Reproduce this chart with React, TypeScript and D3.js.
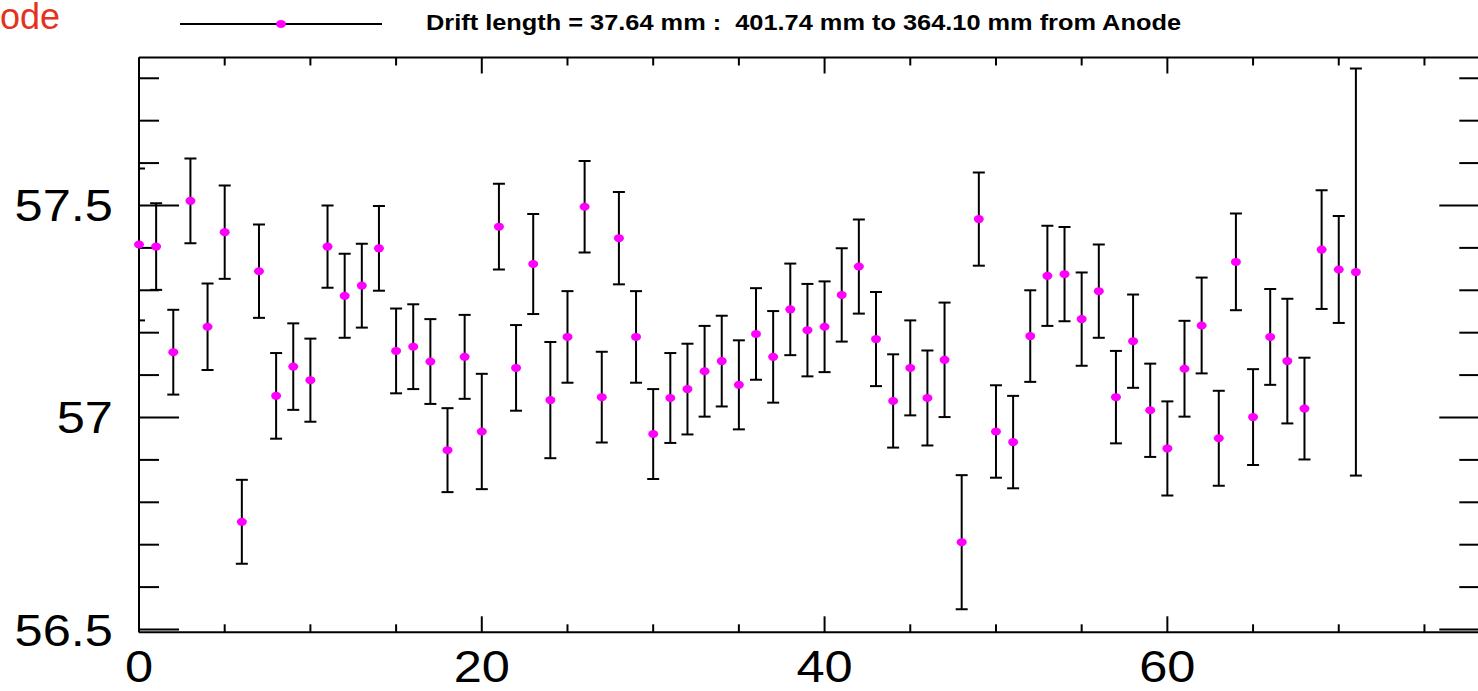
import React from 'react';
import * as d3 from 'd3';

const channels = [0,1,2,3,4,5,6,7,8,9,10,11,12,13,14,15,16,17,18,19,20,21,22,23,24,25,26,27,28,29,30,31,32,33,34,35,36,37,38,39,40,41,42,43,44,45,46,47,48,49,50,51,52,53,54,55,56,57,58,59,60,61,62,63,64,65,66,67,68,69,70,71];
const values = [57.408,57.403,57.154,57.511,57.214,57.437,56.754,57.345,57.051,57.120,57.088,57.403,57.287,57.311,57.399,57.157,57.167,57.132,56.923,57.143,56.967,57.450,57.117,57.362,57.041,57.190,57.497,57.048,57.423,57.190,56.961,57.046,57.067,57.109,57.133,57.077,57.197,57.143,57.255,57.206,57.214,57.289,57.356,57.185,57.039,57.117,57.046,57.136,56.706,57.468,56.967,56.942,57.192,57.334,57.338,57.232,57.298,57.048,57.180,57.017,56.927,57.115,57.217,56.951,57.367,57.001,57.190,57.133,57.021,57.396,57.349,57.343];
const errors = [0.179,0.102,0.100,0.100,0.102,0.110,0.099,0.110,0.101,0.102,0.098,0.097,0.099,0.099,0.100,0.100,0.100,0.100,0.099,0.099,0.136,0.101,0.101,0.118,0.137,0.108,0.108,0.107,0.109,0.108,0.106,0.106,0.107,0.107,0.107,0.105,0.108,0.108,0.108,0.109,0.107,0.110,0.111,0.111,0.110,0.112,0.112,0.135,0.158,0.110,0.109,0.109,0.108,0.118,0.111,0.110,0.110,0.109,0.110,0.110,0.111,0.113,0.113,0.112,0.114,0.113,0.113,0.147,0.120,0.140,0.126,0.480];

const yMajorTicks = [56.5, 57, 57.5];
const yTickLabels = ['56.5', '57', '57.5'];
const yMinorTicks = [56.6, 56.7, 56.8, 56.9, 57.1, 57.2, 57.3, 57.4, 57.6, 57.7, 57.8];
const xMajorTicks = [0, 20, 40, 60];
const xTickLabels = ['0', '20', '40', '60'];
const xMinorTicks = [5, 10, 15, 25, 30, 35, 45, 50, 55, 65, 70, 75];
const titleText = 'Drift length = 37.64 mm :  401.74 mm to 364.10 mm from Anode';
const cornerText = 'ode';

const W = 1478;
const H = 691;
const LEFT = 139;
const RIGHT = 1479.3;
const TOP = 57.5;
const BOTTOM = 632.3;
const FONT = "'Liberation Sans', Arial, Helvetica, sans-serif";
const MAGENTA = '#ff00ff';

export default function App() {
  const x = d3.scaleLinear().domain([0, 78.2]).range([LEFT, RIGHT]);
  const y = d3.scaleLinear().domain([56.4934, 57.849]).range([BOTTOM, TOP]);

  return (
    <svg width={W} height={H} style={{ position: 'absolute', left: 0, top: 0, background: '#fff' }}>
      <defs>
        <clipPath id="plotClip">
          <rect x={LEFT} y={TOP} width={RIGHT - LEFT} height={BOTTOM - TOP} />
        </clipPath>
      </defs>
      <rect x={0} y={0} width={W} height={H} fill="#fff" />

      {/* corner label (only its visible part) */}
      <text x={0} y={29} fontFamily={FONT} fontSize={36} fill="#e5321c">{cornerText}</text>

      {/* legend */}
      <line x1={180} x2={382} y1={24} y2={24} stroke="#000" strokeWidth={2} />
      <ellipse cx={281} cy={24} rx={5} ry={4} fill={MAGENTA} />
      <text x={426} y={30} fontFamily={FONT} fontSize={22} fontWeight="bold" fill="#000"
        style={{ whiteSpace: 'pre' }} xmlSpace="preserve"
        textLength={755} lengthAdjust="spacingAndGlyphs">{titleText}</text>

      {/* frame */}
      <g stroke="#000" strokeWidth={2} fill="none">
        <line x1={LEFT} x2={RIGHT} y1={TOP} y2={TOP} />
        <line x1={LEFT} x2={RIGHT} y1={BOTTOM} y2={BOTTOM} />
        <line x1={LEFT} x2={LEFT} y1={TOP} y2={BOTTOM} />
        <line x1={RIGHT} x2={RIGHT} y1={TOP} y2={BOTTOM} />
      </g>

      {/* ticks */}
      <g stroke="#000" strokeWidth={2}>
        {yMajorTicks.map((t) => (
          <g key={'ym' + t}>
            <line x1={LEFT} x2={LEFT + 40} y1={y(t)} y2={y(t)} />
            <line x1={RIGHT} x2={RIGHT - 40} y1={y(t)} y2={y(t)} />
          </g>
        ))}
        {yMinorTicks.map((t) => (
          <g key={'yn' + t}>
            <line x1={LEFT} x2={LEFT + 20} y1={y(t)} y2={y(t)} />
            <line x1={RIGHT} x2={RIGHT - 20} y1={y(t)} y2={y(t)} />
          </g>
        ))}
        {xMajorTicks.map((t) => (
          <g key={'xm' + t}>
            <line x1={x(t)} x2={x(t)} y1={BOTTOM} y2={BOTTOM - 16} />
            <line x1={x(t)} x2={x(t)} y1={TOP} y2={TOP + 16} />
          </g>
        ))}
        {xMinorTicks.map((t) => (
          <g key={'xn' + t}>
            <line x1={x(t)} x2={x(t)} y1={BOTTOM} y2={BOTTOM - 8} />
            <line x1={x(t)} x2={x(t)} y1={TOP} y2={TOP + 8} />
          </g>
        ))}
      </g>

      {/* tick labels */}
      <g fontFamily={FONT} fontSize={44} fill="#000">
        {yMajorTicks.map((t, i) => (
          <text key={'yl' + t} textAnchor="end" transform={`translate(113,${y(t) + 16}) scale(1.15,1)`}>{yTickLabels[i]}</text>
        ))}
        {xMajorTicks.map((t, i) => (
          <text key={'xl' + t} textAnchor="middle" transform={`translate(${x(t)},${681.5}) scale(1.15,1)`}>{xTickLabels[i]}</text>
        ))}
      </g>

      {/* error bars */}
      <g stroke="#000" strokeWidth={2} clipPath="url(#plotClip)">
        {channels.map((c, i) => {
          const cx = x(c);
          const yTop = y(values[i] + errors[i]);
          const yBot = y(values[i] - errors[i]);
          return (
            <g key={'e' + c}>
              <line x1={cx} x2={cx} y1={yTop} y2={yBot} />
              <line x1={cx - 6} x2={cx + 6} y1={yTop} y2={yTop} />
              <line x1={cx - 6} x2={cx + 6} y1={yBot} y2={yBot} />
            </g>
          );
        })}
      </g>

      {/* markers */}
      <g fill={MAGENTA}>
        {channels.map((c, i) => (
          <ellipse key={'m' + c} cx={x(c)} cy={y(values[i])} rx={5} ry={4} />
        ))}
      </g>
    </svg>
  );
}
